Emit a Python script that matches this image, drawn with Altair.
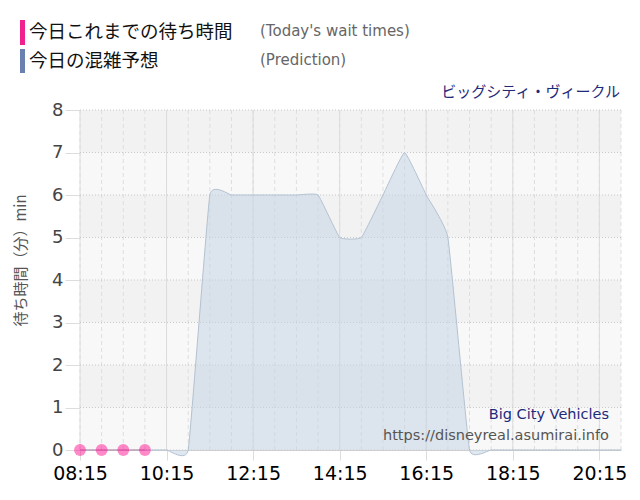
import altair as alt
import pandas as pd

# ---- data ----
pred_times = ["08:15", "08:45", "09:15", "09:45", "10:15", "10:45", "11:15", "11:45",
              "12:15", "12:45", "13:15", "13:45", "14:15", "14:45", "15:15", "15:45",
              "16:15", "16:45", "17:15", "17:45", "18:15", "18:45", "19:15", "19:45",
              "20:15", "20:45"]
pred_values = [0, 0, 0, 0, 0, 0, 6, 6, 6, 6, 6, 6, 5, 5, 6, 7, 6, 5, 0, 0, 0, 0, 0, 0, 0, 0]

actual_times = ["08:15", "08:45", "09:15", "09:45"]
actual_values = [0, 0, 0, 0]

x_tick_labels = ["08:15", "10:15", "12:15", "14:15", "16:15", "18:15", "20:15"]
y_ticks = [0, 1, 2, 3, 4, 5, 6, 7, 8]
x_start, x_end = "08:15", "20:45"


def to_min(s):
    h, m = s.split(":")
    return int(h) * 60 + int(m)


W, H = 541, 340
xdom = [to_min(x_start), to_min(x_end)]

pred = pd.DataFrame({"t": [to_min(t) for t in pred_times], "v": pred_values})
act = pd.DataFrame({"t": [to_min(t) for t in actual_times], "v": actual_values})
bands = pd.DataFrame({"lo": y_ticks[:-1], "hi": y_ticks[1:],
                      "c": ["#f8f8f8" if i % 2 == 0 else "#f2f2f2" for i in y_ticks[:-1]]})
hgrid = pd.DataFrame({"v": y_ticks})
half_hours = list(range(xdom[0], xdom[1] + 1, 30))
vgrid_dash = pd.DataFrame({"t": half_hours})
vgrid_major = pd.DataFrame({"t": [to_min(t) for t in x_tick_labels]})
one = pd.DataFrame({"a": [0]})

xscale = alt.Scale(domain=xdom, nice=False, zero=False)
yscale = alt.Scale(domain=[0, 8], nice=False)

label_expr = ("(floor(datum.value/60)<10?'0':'') + floor(datum.value/60) + ':' + "
              "(datum.value%60<10?'0':'') + (datum.value%60)")

x_axis = alt.Axis(values=[to_min(t) for t in x_tick_labels], labelExpr=label_expr,
                  grid=False, tickSize=10, tickColor="#dddddd", domainColor="#d0d0d0",
                  labelFont="DejaVu Sans", labelFontSize=19, labelColor="#000000",
                  labelPadding=4, title=None, labelFlush=False)
y_axis = alt.Axis(values=y_ticks, grid=False, tickSize=15, tickColor="#dddddd",
                  domainColor="#aaaaaa", labelFont="DejaVu Sans", labelFontSize=18,
                  labelColor="#444444", labelPadding=2, title="待ち時間（分）min",
                  titleFont="Noto Sans CJK JP", titleFontSize=15, titleFontWeight="normal",
                  titleColor="#555555", titleAngle=-90, titleX=-60, titleY=150,
                  titleAlign="center", titleBaseline="middle")

band_layer = alt.Chart(bands).mark_rect().encode(
    x=alt.value(0), x2=alt.value(W),
    y=alt.Y("lo:Q", scale=yscale, axis=y_axis), y2="hi:Q",
    color=alt.Color("c:N", scale=None))

hgrid_layer = alt.Chart(hgrid).mark_rule(color="#c8c8c8", strokeDash=[1, 2], strokeWidth=1).encode(
    y=alt.Y("v:Q", scale=yscale), x=alt.value(0), x2=alt.value(W))

vdash_layer = alt.Chart(vgrid_dash).mark_rule(color="#dedede", strokeDash=[4, 3], strokeWidth=1).encode(
    x=alt.X("t:Q", scale=xscale, axis=x_axis), y=alt.value(0), y2=alt.value(H))

vmajor_layer = alt.Chart(vgrid_major).mark_rule(color="#dcdcdc", strokeWidth=1).encode(
    x=alt.X("t:Q", scale=xscale), y=alt.value(0), y2=alt.value(H))

area_layer = alt.Chart(pred).mark_area(interpolate="cardinal", tension=0.7,
                                       color="#c5d5e5", opacity=0.55).encode(
    x=alt.X("t:Q", scale=xscale), y=alt.Y("v:Q", scale=yscale))

line_layer = alt.Chart(pred).mark_line(interpolate="cardinal", tension=0.7,
                                       color="#b3c2d1", strokeWidth=1).encode(
    x=alt.X("t:Q", scale=xscale), y=alt.Y("v:Q", scale=yscale))

act_line = alt.Chart(act).mark_line(color="#c06090", strokeWidth=1, opacity=0.6).encode(
    x=alt.X("t:Q", scale=xscale), y=alt.Y("v:Q", scale=yscale))

act_pts = alt.Chart(act).mark_circle(color="#ff1493", opacity=0.5, size=140).encode(
    x=alt.X("t:Q", scale=xscale), y=alt.Y("v:Q", scale=yscale))


def txt(s, x, y, size, color, font="Noto Sans CJK JP", align="left"):
    return alt.Chart(one).mark_text(text=s, font=font, fontSize=size, color=color,
                                    align=align, baseline="middle").encode(
        x=alt.value(x), y=alt.value(y))


def bar(x, y, y2, color):
    return alt.Chart(one).mark_rect(color=color).encode(
        x=alt.value(x), x2=alt.value(x + 5), y=alt.value(y), y2=alt.value(y2))


ox, oy = 80, 110
annot = [
    bar(20 - ox, 20 - oy, 45 - oy, "#f0208f"),
    bar(20 - ox, 49 - oy, 73 - oy, "#6a80b0"),
    txt("今日これまでの待ち時間", 29 - ox, 32 - oy, 18.5, "#111111"),
    txt("今日の混雑予想", 29 - ox, 61 - oy, 18.5, "#111111"),
    txt("(Today's wait times)", 260 - ox, 31 - oy, 15, "#666666", font="DejaVu Sans"),
    txt("(Prediction)", 260 - ox, 60 - oy, 15, "#666666", font="DejaVu Sans"),
    txt("ビッグシティ・ヴィークル", 620 - ox, 92 - oy, 15, "#1f2a7a", align="right"),
    txt("Big City Vehicles", 609 - ox, 415 - oy, 14.5, "#1f2a7a", font="DejaVu Sans", align="right"),
    txt("https://disneyreal.asumirai.info", 609 - ox, 436 - oy, 14.5, "#555555",
        font="DejaVu Sans", align="right"),
]

chart = alt.layer(band_layer, vdash_layer, vmajor_layer, hgrid_layer, area_layer, line_layer,
                  act_line, act_pts, *annot).properties(
    width=W, height=H,
    autosize=alt.AutoSizeParams(type="none"),
    padding={"left": 72, "top": 102, "right": 11, "bottom": 42},
    background="#ffffff",
).configure_view(stroke=None)

chart.save("out.html", embed_options={"renderer": "svg", "actions": False})
